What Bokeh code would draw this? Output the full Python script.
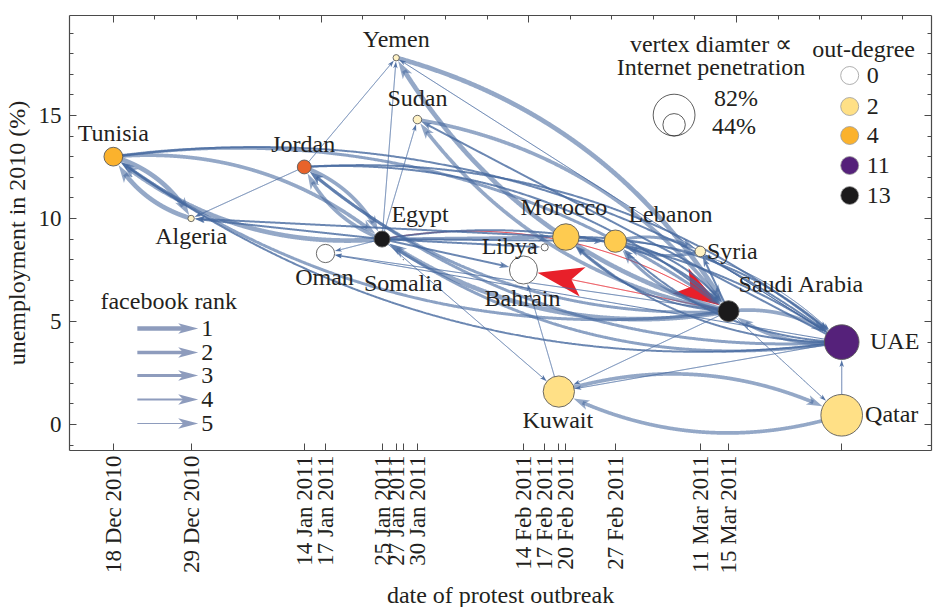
import numpy as np
import pandas as pd
from bokeh.plotting import figure
from bokeh.models import (ColumnDataSource, FixedTicker, SingleIntervalTicker,
                          LinearAxis, Range1d, Label, CustomJSTickFormatter)
from bokeh.embed import file_html
from bokeh.resources import INLINE
from bokeh.core.properties import value

# ---------------------------------------------------------------- data
COUNTRIES = ["Tunisia", "Algeria", "Jordan", "Oman", "Egypt", "Yemen", "Somalia",
             "Sudan", "Bahrain", "Libya", "Kuwait", "Morocco", "Lebanon", "Syria",
             "Saudi Arabia", "UAE", "Qatar"]
PROTEST_DATES = ["2010-12-18", "2010-12-29", "2011-01-14", "2011-01-17", "2011-01-25",
                 "2011-01-27", "2011-01-28", "2011-01-30", "2011-02-14", "2011-02-17",
                 "2011-02-19", "2011-02-20", "2011-02-27", "2011-03-11", "2011-03-15",
                 None, None]
UNEMPLOYMENT = [13.0, 10.0, 12.5, 8.3, 9.0, 17.8, 8.0, 14.8, 7.5, 8.6, 1.6, 9.1,
                8.9, 8.4, 5.5, 4.0, 0.45]
INTERNET_PENETRATION = [36.8, 12.5, 27.2, 35.8, 31.4, 12.4, 1.2, 16.7, 55.0, 14.0,
                        61.4, 52.0, 43.7, 20.7, 41.0, 68.0, 81.6]

# (source, target, facebook rank)
EDGES = [
    ("Egypt", "Tunisia", 1), ("Egypt", "Jordan", 2), ("Egypt", "Algeria", 4),
    ("Egypt", "Yemen", 5), ("Egypt", "Sudan", 5), ("Egypt", "Oman", 5),
    ("Egypt", "Libya", 4), ("Egypt", "Morocco", 3), ("Egypt", "Lebanon", 4),
    ("Egypt", "Kuwait", 5), ("Egypt", "Saudi Arabia", 5), ("Egypt", "UAE", 4),
    ("Egypt", "Bahrain", 4),
    ("Saudi Arabia", "Yemen", 1), ("Saudi Arabia", "Sudan", 2),
    ("Saudi Arabia", "Tunisia", 3), ("Saudi Arabia", "Jordan", 3),
    ("Saudi Arabia", "Egypt", 1), ("Saudi Arabia", "Bahrain", 5),
    ("Saudi Arabia", "Morocco", 4), ("Saudi Arabia", "Lebanon", 3),
    ("Saudi Arabia", "Syria", 4), ("Saudi Arabia", "Oman", 5),
    ("Saudi Arabia", "Kuwait", 5), ("Saudi Arabia", "Qatar", 5),
    ("Saudi Arabia", "UAE", 2),
    ("UAE", "Yemen", 5), ("UAE", "Sudan", 4), ("UAE", "Tunisia", 4),
    ("UAE", "Jordan", 3), ("UAE", "Egypt", 3), ("UAE", "Saudi Arabia", 2),
    ("UAE", "Kuwait", 5), ("UAE", "Oman", 5), ("UAE", "Lebanon", 4),
    ("UAE", "Morocco", 4), ("UAE", "Syria", 5),
    ("Jordan", "Algeria", 5), ("Jordan", "Yemen", 5), ("Jordan", "Egypt", 2),
    ("Jordan", "Saudi Arabia", 4), ("Jordan", "UAE", 4),
    ("Tunisia", "Algeria", 1), ("Tunisia", "Egypt", 2),
    ("Tunisia", "Saudi Arabia", 3), ("Tunisia", "UAE", 4),
    ("Morocco", "Algeria", 4), ("Morocco", "Saudi Arabia", 4), ("Morocco", "UAE", 4),
    ("Lebanon", "Syria", 3), ("Lebanon", "Saudi Arabia", 4), ("Lebanon", "UAE", 5),
    ("Kuwait", "Qatar", 2), ("Kuwait", "Bahrain", 5),
    ("Qatar", "Kuwait", 2), ("Qatar", "UAE", 5),
    ("Algeria", "Tunisia", 1),
    ("Yemen", "Saudi Arabia", 1),
    ("Sudan", "Saudi Arabia", 2),
    ("Syria", "Lebanon", 3),
]
HIGHLIGHTED_EDGES = [("Egypt", "Saudi Arabia"), ("Saudi Arabia", "Bahrain")]

UNLABELED_TICK_COUNTRIES = ["Somalia", "Kuwait"]
NO_PROTEST_TEXT = ["no", "protest"]
OUTDEGREE_LEGEND = [0, 2, 4, 11, 13]
PENETRATION_LEGEND = [82, 44]
FACEBOOK_RANKS = [1, 2, 3, 4, 5]

# ---------------------------------------------------------------- style / layout
OUTDEGREE_COLORS = {0: "#FFFFFF", 1: "#FFF2C4", 2: "#FFE086", 3: "#FECB50",
                    4: "#FBB22D", 5: "#E8632B", 11: "#55217A", 13: "#1B1A1B"}
FONT = "Liberation Serif"
TXT = "#231F20"
AXIS_COL = "#4A4A4A"
EDGE_COL = "#46699F"
RED = "#E8202A"
LEGEND_ARROW_COL = "#8E9CBD"
EDGE_WIDTH = {1: 4.7, 2: 3.7, 3: 3.0, 4: 2.0, 5: 1.0}
EDGE_ALPHA = {1: 0.58, 2: 0.58, 3: 0.62, 4: 0.8, 5: 0.92}
HEAD = {1: (18, 11), 2: (16, 10), 3: (14, 9), 4: (10, 6.5), 5: (7, 4.5)}
RED_HEAD = (46, 30)
BEND = 0.10
PX_PER_PCT = 0.51
LABEL_PX = "24px"
TICK_PX = "23px"

FRAME_W, FRAME_H = 862, 435
X0, X1 = -6.2, 115.7
Y0, Y1 = -1.26, 19.85
KX = FRAME_W / (X1 - X0)
KY = FRAME_H / (Y1 - Y0)
NO_PROTEST_X = 103.0


def ref_to_data(X, Y):
    """Reference-picture pixel -> data coordinates (legend placement)."""
    return X0 + (X - 69.0) / 864.0 * (X1 - X0), Y1 - (Y - 15.0) / 435.0 * (Y1 - Y0)


# ---------------------------------------------------------------- derived
base = pd.Timestamp(PROTEST_DATES[0])
node_x = [NO_PROTEST_X if d is None else float((pd.Timestamp(d) - base).days)
          for d in PROTEST_DATES]
node_y = list(UNEMPLOYMENT)
node_size = [PX_PER_PCT * v for v in INTERNET_PENETRATION]
outdeg = {c: 0 for c in COUNTRIES}
for s, t, r in EDGES:
    outdeg[s] += 1
node_color = [OUTDEGREE_COLORS[outdeg[c]] for c in COUNTRIES]
XN = dict(zip(COUNTRIES, node_x))
YN = dict(zip(COUNTRIES, node_y))
SN = dict(zip(COUNTRIES, node_size))
pairs = set((s, t) for s, t, r in EDGES)


def head_poly(tip, u, hl, hw):
    v = np.array([-u[1], u[0]])
    b = tip - u * hl
    pts = [tip, b + v * hw / 2, tip - u * hl * 0.75, b - v * hw / 2]
    return [q[0] / KX for q in pts], [q[1] / KY for q in pts]


def edge_geom(s, t, head):
    p0 = np.array([XN[s] * KX, YN[s] * KY])
    p2 = np.array([XN[t] * KX, YN[t] * KY])
    d = p2 - p0
    L = np.hypot(*d)
    n = np.array([-d[1], d[0]]) / L
    bend = BEND if (t, s) in pairs else 0.0
    c = (p0 + p2) / 2 + n * 2 * bend * L
    tt = np.linspace(0, 1, 600)[:, None]
    pts = (1 - tt) ** 2 * p0 + 2 * (1 - tt) * tt * c + tt ** 2 * p2
    dist = np.hypot(*(pts - p2).T)
    r = SN[t] / 2 + 0.6
    idx = int(np.argmax(dist < r))
    tip = pts[idx]
    u = tip - pts[max(idx - 8, 0)]
    u = u / np.hypot(*u)
    hl, hw = head
    keep = dist > r + hl * 0.6
    line = pts[keep]
    hx, hy = head_poly(tip, u, hl, hw)
    return list(line[:, 0] / KX), list(line[:, 1] / KY), hx, hy


blue = dict(xs=[], ys=[], w=[], a=[])
bhead = dict(xs=[], ys=[], a=[])
red = dict(xs=[], ys=[])
rhead = dict(xs=[], ys=[])
for s, t, r in EDGES:
    if (s, t) in HIGHLIGHTED_EDGES:
        lx, ly, hx, hy = edge_geom(s, t, RED_HEAD)
        red["xs"].append(lx); red["ys"].append(ly)
        rhead["xs"].append(hx); rhead["ys"].append(hy)
    else:
        lx, ly, hx, hy = edge_geom(s, t, HEAD[r])
        blue["xs"].append(lx); blue["ys"].append(ly)
        blue["w"].append(EDGE_WIDTH[r]); blue["a"].append(EDGE_ALPHA[r])
        bhead["xs"].append(hx); bhead["ys"].append(hy); bhead["a"].append(EDGE_ALPHA[r])

# ---------------------------------------------------------------- figure
p = figure(frame_width=FRAME_W, frame_height=FRAME_H,
           x_range=Range1d(X0, X1), y_range=Range1d(Y0, Y1),
           output_backend="svg", toolbar_location=None,
           min_border_left=69, min_border_right=3, min_border_top=15,
           min_border_bottom=10)
p.xgrid.visible = False
p.ygrid.visible = False
p.outline_line_color = None

BLANK = CustomJSTickFormatter(code="return ''")


def style_axis(ax, labels=True):
    ax.axis_line_color = AXIS_COL
    ax.axis_line_width = 1.2
    ax.major_tick_line_color = AXIS_COL
    ax.minor_tick_line_color = AXIS_COL
    ax.major_tick_in = 7
    ax.major_tick_out = 0
    ax.minor_tick_in = 4
    ax.minor_tick_out = 0
    ax.major_label_text_font = FONT
    ax.major_label_text_color = TXT
    ax.major_label_text_font_size = TICK_PX
    ax.major_label_standoff = 6 if labels else 0
    ax.axis_label_text_font = FONT
    ax.axis_label_text_font_style = "normal"
    ax.axis_label_text_font_size = "24px"
    ax.axis_label_text_color = TXT
    if not labels:
        ax.formatter = BLANK


# bottom axis: one tick per outbreak date (unlabelled ones as full-length minor ticks)
labelled, unlabelled, overrides = [], [], {}
for c, x, d in zip(COUNTRIES, node_x, PROTEST_DATES):
    if d is None or c in UNLABELED_TICK_COUNTRIES:
        unlabelled.append(x)
    else:
        ts = pd.Timestamp(d)
        labelled.append(x)
        overrides[x] = f"{ts.day} {ts.strftime('%b %Y')}"
xa = p.xaxis[0]
xa.ticker = FixedTicker(ticks=sorted(set(labelled)), minor_ticks=sorted(set(unlabelled)))
xa.major_label_overrides = overrides
xa.major_label_orientation = np.pi / 2
xa.axis_label = "date of protest outbreak"
style_axis(xa)
xa.minor_tick_in = 7
xa.major_label_standoff = 5
xa.axis_label_standoff = 6

ya = p.yaxis[0]
ya.ticker = SingleIntervalTicker(interval=5, num_minor_ticks=5)
ya.axis_label = "unemployment in 2010 (%)"
style_axis(ya)
ya.major_label_standoff = 8
ya.axis_label_standoff = 6

top_step = 5.875
top_ax = LinearAxis(ticker=FixedTicker(ticks=[k * top_step for k in range(0, 20, 5)],
                                       minor_ticks=[k * top_step for k in range(20)]))
style_axis(top_ax, labels=False)
p.add_layout(top_ax, "above")
right_ax = LinearAxis(ticker=SingleIntervalTicker(interval=5, num_minor_ticks=5))
style_axis(right_ax, labels=False)
p.add_layout(right_ax, "right")

# ---------------------------------------------------------------- edges
p.multi_line(xs=red["xs"], ys=red["ys"], line_color=RED, line_width=1.0)
p.patches(xs=rhead["xs"], ys=rhead["ys"], fill_color=RED, line_color=None)
bsrc = ColumnDataSource(blue)
p.multi_line(xs="xs", ys="ys", line_width="w", line_alpha="a",
             line_color=EDGE_COL, source=bsrc)
hsrc = ColumnDataSource(bhead)
p.patches(xs="xs", ys="ys", fill_alpha="a", fill_color=EDGE_COL,
          line_color=None, source=hsrc)

# ---------------------------------------------------------------- nodes
nsrc = ColumnDataSource(dict(x=node_x, y=node_y, size=node_size, color=node_color))
p.scatter(x="x", y="y", size="size", fill_color="color", line_color="#5A5A5A",
          line_width=0.9, source=nsrc)

LABEL_OFFSET = {"Tunisia": (0, 24), "Algeria": (0, -18), "Jordan": (-1, 23),
                "Oman": (-1, -23), "Egypt": (38, 25), "Somalia": (0, -23),
                "Yemen": (0, 19), "Sudan": (0, 22), "Bahrain": (-1, -28),
                "Libya": (-35, 1), "Kuwait": (-1, -28), "Morocco": (-2, 30),
                "Lebanon": (55, 27), "Syria": (32, 0), "Saudi Arabia": (73, 27),
                "UAE": (53, 1), "Qatar": (50, 1)}
lx = [x + LABEL_OFFSET[c][0] / KX for c, x in zip(COUNTRIES, node_x)]
ly = [y + LABEL_OFFSET[c][1] / KY for c, y in zip(COUNTRIES, node_y)]
p.text(x=lx, y=ly, text=COUNTRIES, text_font=value(FONT), text_font_size=LABEL_PX,
       text_align="center", text_baseline="middle", text_color=TXT)

# "no protest" tick label
for i, word in enumerate(NO_PROTEST_TEXT):
    p.add_layout(Label(x=NO_PROTEST_X, y=Y0 - (22 + 26 * i) / KY, text=word,
                       text_font=FONT, text_font_size=TICK_PX, text_color=TXT,
                       text_align="center", text_baseline="middle"))

# ---------------------------------------------------------------- legends
fx, fy = ref_to_data(100, 300)
p.text(x=[fx], y=[fy], text=["facebook rank"], text_font=value(FONT),
       text_font_size=LABEL_PX, text_align="left", text_baseline="middle", text_color=TXT)
rank_rows = [328, 352, 375, 399, 423]
for r, Y in zip(FACEBOOK_RANKS, rank_rows):
    xa0, yy = ref_to_data(137, Y)
    xb, _ = ref_to_data(186, Y)
    xt, _ = ref_to_data(198, Y)
    p.line(x=[xa0, xb], y=[yy, yy], line_width=EDGE_WIDTH[r], line_color=LEGEND_ARROW_COL)
    hx, hy = head_poly(np.array([xt * KX, yy * KY]), np.array([1.0, 0.0]), 20, 10.5)
    p.patch(x=hx, y=hy, fill_color=LEGEND_ARROW_COL, line_color=None)
    tx, _ = ref_to_data(201, Y)
    p.text(x=[tx], y=[yy], text=[str(r)], text_font=value(FONT), text_font_size=LABEL_PX,
           text_align="left", text_baseline="middle", text_color=TXT)

for txt, Y in [("vertex diamter \u221d", 43), ("Internet penetration", 66)]:
    tx, ty = ref_to_data(712, Y)
    p.text(x=[tx], y=[ty], text=[txt], text_font=value(FONT), text_font_size=LABEL_PX,
           text_align="center", text_baseline="middle", text_color=TXT)
cx, _ = ref_to_data(675, 0)
_, cb = ref_to_data(0, 135.5)
for pen in PENETRATION_LEGEND:
    d = PX_PER_PCT * pen
    p.scatter(x=[cx], y=[cb + d / 2 / KY], size=d, fill_color=None,
              line_color="#333333", line_width=0.8)
for pen, (X, Y) in zip(PENETRATION_LEGEND, [(715, 97), (713, 125)]):
    tx, ty = ref_to_data(X, Y)
    p.text(x=[tx], y=[ty], text=[f"{pen}%"], text_font=value(FONT),
           text_font_size=LABEL_PX, text_align="left", text_baseline="middle",
           text_color=TXT)

tx, ty = ref_to_data(865, 48)
p.text(x=[tx], y=[ty], text=["out-degree"], text_font=value(FONT),
       text_font_size=LABEL_PX, text_align="center", text_baseline="middle", text_color=TXT)
for k, Y in zip(OUTDEGREE_LEGEND, [75, 106, 135, 165, 195]):
    cx2, cy2 = ref_to_data(851, Y)
    p.scatter(x=[cx2], y=[cy2], size=18, fill_color=OUTDEGREE_COLORS[k],
              line_color="#9A9A9A", line_width=0.8)
    tx, _ = ref_to_data(868, Y)
    p.text(x=[tx], y=[cy2], text=[str(k)], text_font=value(FONT), text_font_size=LABEL_PX,
           text_align="left", text_baseline="middle", text_color=TXT)

open("out.html", "w").write(file_html(p, INLINE))
